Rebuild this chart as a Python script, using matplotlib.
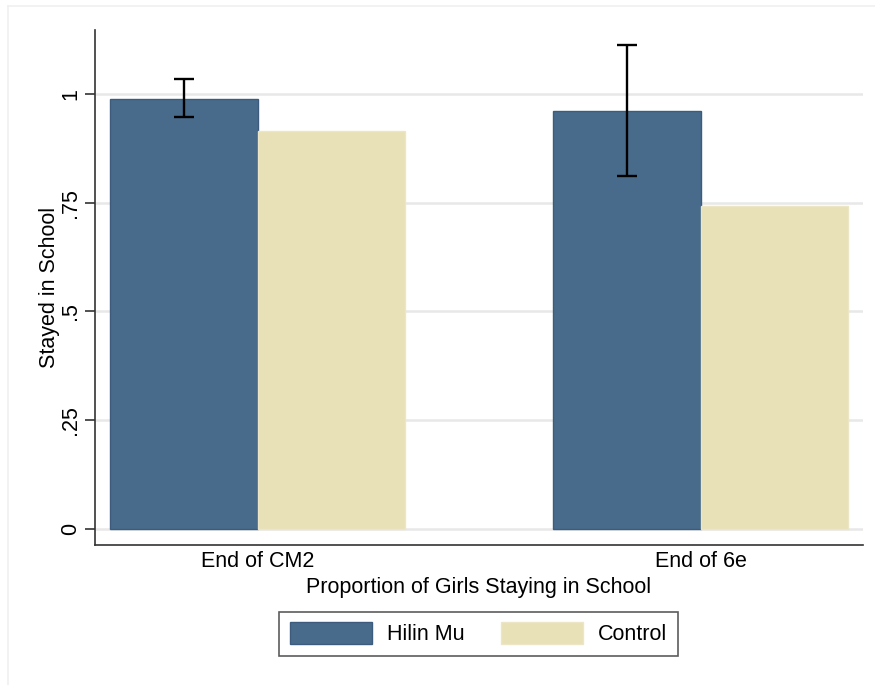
import matplotlib
matplotlib.use("Agg")
import matplotlib.pyplot as plt
from matplotlib.lines import Line2D

# Données : proportion de filles restées à l'école
groupes = ["End of CM2", "End of 6e"]
hilin_mu = [0.988, 0.961]
controle = [0.915, 0.743]
ic_bas = [0.947, 0.811]
ic_haut = [1.034, 1.113]

yticks = [0, 0.25, 0.5, 0.75, 1]
ytick_labels = ["0", ".25", ".5", ".75", "1"]

bleu = "#486a8b"
beige = "#e8e0b6"

plt.rcParams["font.family"] = ["Liberation Sans", "DejaVu Sans"]
taille = 15.5

fig = plt.figure(figsize=(8.75, 6.85), dpi=100)
ax = fig.add_axes([0.1086, 0.2044, 0.8777, 0.7518])

centres = [0, 3]
largeur = 1.0
pos_hm = [c - largeur / 2 for c in centres]
pos_ct = [c + largeur / 2 for c in centres]

ax.bar(pos_hm, hilin_mu, width=largeur, color=bleu, edgecolor="#3d5c7d",
       linewidth=1, label="Hilin Mu", zorder=3)
ax.bar(pos_ct, controle, width=largeur, color=beige, edgecolor="#ece6c6",
       linewidth=1, label="Control", zorder=3)

# barres d'erreur (intervalle de confiance) sur Hilin Mu
err_bas = [h - b for h, b in zip(hilin_mu, ic_bas)]
err_haut = [t - h for h, t in zip(hilin_mu, ic_haut)]
ax.errorbar(pos_hm, hilin_mu, yerr=[err_bas, err_haut], fmt="none",
            ecolor="black", elinewidth=1.7, capsize=7, capthick=1.7, zorder=4)

ax.set_xlim(-1.102, 4.1)
ax.set_ylim(-0.037, 1.147)
ax.set_yticks(yticks)
ax.set_yticklabels(ytick_labels, rotation=90, va="center", fontsize=taille)
ax.set_xticks(centres)
ax.set_xticklabels(groupes, fontsize=taille)
ax.tick_params(axis="x", length=0, pad=4)
ax.tick_params(axis="y", length=7, width=1.2, color="#333333", pad=3)

ax.grid(axis="y", color="#e8e8e8", linewidth=1.8, zorder=0)
ax.set_axisbelow(True)
for s in ["top", "right"]:
    ax.spines[s].set_visible(False)
for s in ["left", "bottom"]:
    ax.spines[s].set_color("#333333")
    ax.spines[s].set_linewidth(1.2)

ax.set_ylabel("Stayed in School", fontsize=taille, labelpad=0)
ax.set_xlabel("Proportion of Girls Staying in School", fontsize=taille, labelpad=4)

leg = fig.legend(loc="center", bbox_to_anchor=(0.547, 0.0745), ncol=2,
                 fontsize=taille, frameon=True, fancybox=False, edgecolor="#333333",
                 handlelength=3.8, handleheight=1.15, columnspacing=1.7,
                 handletextpad=0.7, borderpad=0.5)
leg.get_frame().set_linewidth(1.2)

# cadre léger autour du graphique
fig.add_artist(Line2D([0.0092, 0.0092], [0, 0.9912], color="#f0f0f0", lw=1.2))
fig.add_artist(Line2D([0.0092, 1], [0.9912, 0.9912], color="#f0f0f0", lw=1.2))

fig.savefig("out.png", dpi=100)
